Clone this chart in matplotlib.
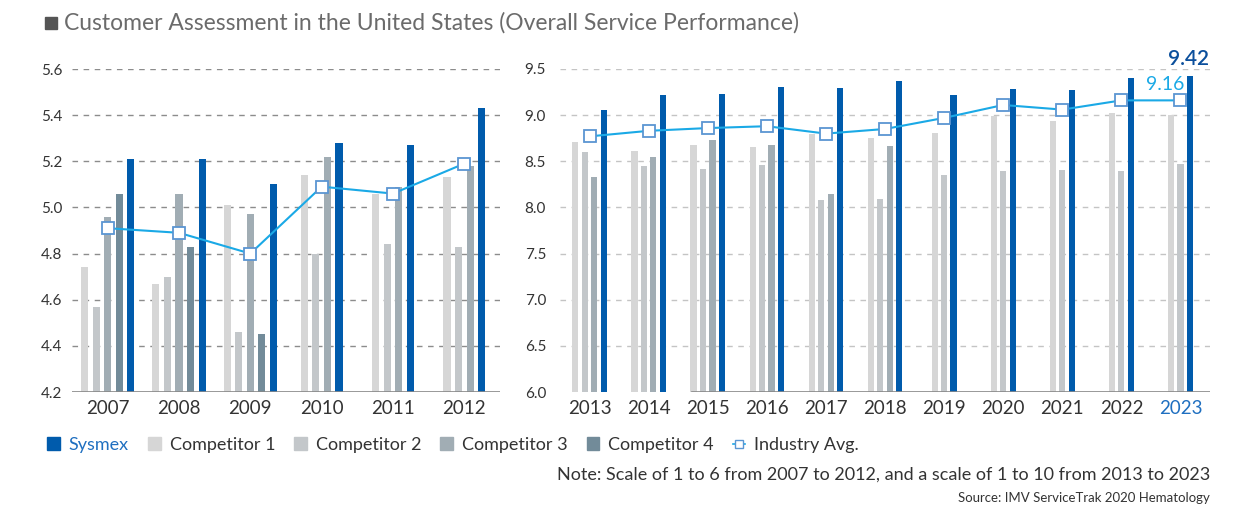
import numpy as np
import matplotlib.pyplot as plt
from matplotlib.patches import Patch, Rectangle
from matplotlib.lines import Line2D

plt.rcParams['font.family'] = ['Lato', 'DejaVu Sans']

# Data
years_a = ['2007', '2008', '2009', '2010', '2011', '2012']
sysmex_a = [5.21, 5.21, 5.10, 5.28, 5.27, 5.43]
comp1_a = [4.74, 4.67, 5.01, 5.14, 5.06, 5.13]
comp2_a = [4.57, 4.70, 4.46, 4.80, 4.84, 4.83]
comp3_a = [4.96, 5.06, 4.97, 5.22, 5.09, 5.18]
comp4_a = [5.06, 4.83, 4.45, np.nan, np.nan, np.nan]
avg_a = [4.91, 4.89, 4.80, 5.09, 5.06, 5.19]

years_b = ['2013', '2014', '2015', '2016', '2017', '2018', '2019', '2020', '2021', '2022', '2023']
sysmex_b = [9.06, 9.22, 9.23, 9.30, 9.29, 9.37, 9.22, 9.28, 9.27, 9.40, 9.42]
comp1_b = [8.71, 8.61, 8.68, 8.65, 8.80, 8.75, 8.81, 8.99, 8.94, 9.02, 9.00]
comp2_b = [8.60, 8.45, 8.42, 8.46, 8.08, 8.09, 8.35, 8.39, 8.41, 8.39, 8.47]
comp3_b = [8.33, 8.55, 8.73, 8.68, 8.15, 8.67, np.nan, np.nan, np.nan, np.nan, np.nan]
comp4_b = [np.nan] * 11
avg_b = [8.77, 8.83, 8.86, 8.88, 8.80, 8.85, 8.97, 9.11, 9.06, 9.16, 9.16]

labels = ['Competitor 1', 'Competitor 2', 'Competitor 3', 'Competitor 4', 'Sysmex']
colors = ['#d6d6d6', '#c3c7ca', '#a1adb4', '#728b99', '#005bac']
line_c = '#1aa9e6'
mark_ec = '#5b95d2'

W, H = 1239, 505
fig = plt.figure(figsize=(W / 100, H / 100), dpi=100)


def px(l, r, t, b):
    return [l / W, 1 - b / H, (r - l) / W, (b - t) / H]


def draw(ax, years, series, avg, width, step, ylim, yticks, gridc):
    x = np.arange(len(years))
    for i in range(len(years)):
        present = [k for k in range(len(series)) if not np.isnan(series[k][i])]
        n = len(present)
        for j, k in enumerate(present):
            off = (j - (n - 1) / 2) * step
            ax.bar(x[i] + off, series[k][i] - ylim[0], width, bottom=ylim[0],
                   color=colors[k], zorder=2)
    ax.plot(x, avg, color=line_c, lw=1.5, marker='s', ms=8, mfc='white',
            mec=mark_ec, mew=1.3, zorder=4)
    ax.set_xlim(-0.5, len(years) - 0.5)
    ax.set_ylim(*ylim)
    ax.set_yticks(yticks)
    ax.set_yticklabels([f'{t:.1f}' for t in yticks])
    ax.set_xticks(x)
    ax.set_xticklabels(years)
    for t in yticks[1:]:
        ax.axhline(t, color=gridc, lw=1, ls=(0, (4, 4)), zorder=1)
    for s in ['top', 'right', 'left', 'bottom']:
        ax.spines[s].set_visible(False)
    ax.tick_params(axis='both', length=0, colors='#333333')
    ax.tick_params(axis='y', labelsize=11, pad=7)
    ax.tick_params(axis='x', labelsize=13.5, pad=6)


axL = fig.add_axes(px(72, 500, 69, 392))
draw(axL, years_a, [comp1_a, comp2_a, comp3_a, comp4_a, sysmex_a], avg_a,
     0.1, 0.162, (4.2, 5.6), np.round(np.arange(4.2, 5.61, 0.2), 1), '#8c8c8c')
axL.axhline(4.2, color='#888888', lw=1.2, zorder=3)

axR = fig.add_axes(px(560, 1210, 69, 392))
draw(axR, years_b, [comp1_b, comp2_b, comp3_b, comp4_b, sysmex_b], avg_b,
     0.105, 0.16, (6.0, 9.5), np.round(np.arange(6.0, 9.51, 0.5), 1), '#c4c4c4')
axR.axhline(6.0, xmin=0.203, color='#888888', lw=1.2, zorder=3)
axR.tick_params(axis='y', pad=10)
axR.get_xticklabels()[-1].set_color('#1f6fc0')

axR.annotate(f'{sysmex_b[-1]:.2f}', (len(years_b) - 1 + 0.14, sysmex_b[-1]),
             xytext=(0, 5), textcoords='offset points', ha='center', va='bottom',
             fontsize=15, color='#0b4f9c', fontweight='semibold')
axR.annotate(f'{avg_b[-1]:.2f}', (len(years_b) - 1 - 0.25, avg_b[-1]),
             xytext=(0, 5), textcoords='offset points', ha='center', va='bottom',
             fontsize=14, color='#1aa9e6')

# Title
fig.patches.append(Rectangle((45 / W, 1 - 29 / H), 12 / W, 12 / H,
                             transform=fig.transFigure, color='#555555'))
fig.text(64 / W, 1 - 23 / H,
         'Customer Assessment in the United States (Overall Service Performance)',
         fontsize=16.5, color='#6b6b6b', va='center', ha='left')

# Legend
handles = [Patch(color=colors[4])] + [Patch(color=c) for c in colors[:4]] + \
    [Line2D([], [], color=line_c, marker='s', ms=6, mfc='white', mec=mark_ec, lw=1.2)]
leg_labels = ['Sysmex'] + labels[:4] + ['Industry Avg.']
leg = fig.legend(handles, leg_labels, ncol=6, loc='center left',
                 bbox_to_anchor=(31 / W, 1 - 445 / H), frameon=False,
                 fontsize=13, handlelength=0.7, handleheight=0.7,
                 handletextpad=0.5, columnspacing=1.05)
for i, t in enumerate(leg.get_texts()):
    t.set_color('#1f6fc0' if i == 0 else '#333333')

fig.text(1210 / W, 1 - 475 / H,
         'Note: Scale of 1 to 6 from 2007 to 2012, and a scale of 1 to 10 from 2013 to 2023',
         fontsize=13, color='#333333', ha='right', va='center')
fig.text(1210 / W, 1 - 498 / H, 'Source: IMV ServiceTrak 2020 Hematology',
         fontsize=9.5, color='#333333', ha='right', va='center')

fig.savefig('out.png', dpi=100)
